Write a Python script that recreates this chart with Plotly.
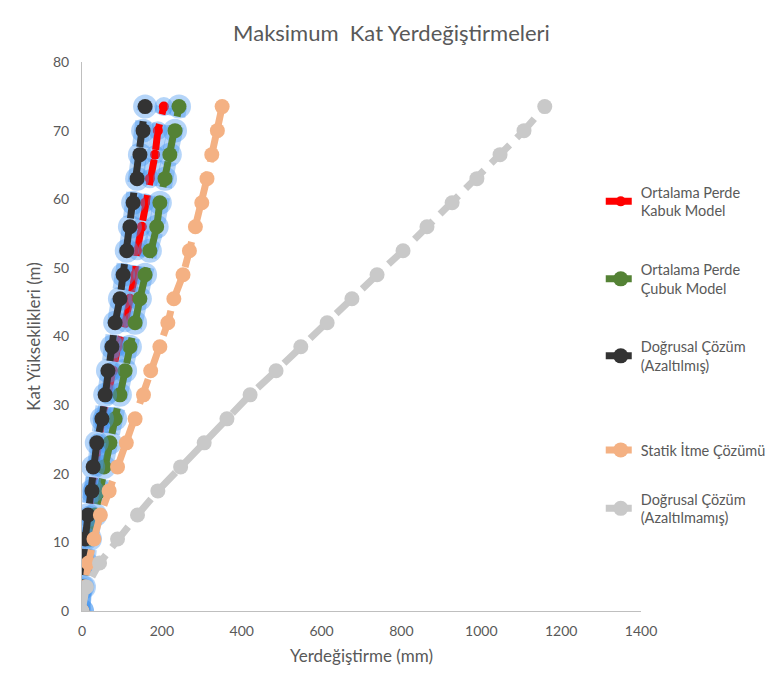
import plotly.graph_objects as go

heights = [0, 3.5, 7, 10.5, 14, 17.5, 21, 24.5, 28, 31.5, 35, 38.5, 42, 45.5, 49, 52.5, 56, 59.5, 63, 66.5, 70, 73.5]

kabuk = [0, 2, 5, 10, 18, 25, 33, 40, 50, 65, 78, 90, 108, 120, 133, 138, 150, 158, 170, 183, 190, 205]
cubuk = [0, 5, 10, 20, 33, 45, 55, 70, 83, 95, 108, 120, 133, 145, 158, 170, 187, 195, 208, 220, 233, 243]
azaltilmis = [0, 1, 3, 8, 15, 25, 28, 37, 50, 58, 65, 75, 83, 95, 103, 112, 120, 128, 138, 145, 153, 158]
statik = [0, 8, 16, 30, 46, 68, 89, 111, 133, 154, 172, 195, 215, 230, 253, 269, 284, 300, 313, 325, 339, 351]
azaltilmamis = [0, 11, 44, 89, 139, 190, 247, 306, 363, 421, 486, 548, 614, 676, 739, 804, 864, 927, 989, 1047, 1107, 1159]

names = ["Ortalama Perde<br>Kabuk Model", "Ortalama Perde<br>Çubuk Model",
         "Doğrusal Çözüm<br>(Azaltılmış)", "Statik İtme Çözümü",
         "Doğrusal Çözüm<br>(Azaltılmamış)"]
series = [kabuk, cubuk, azaltilmis, statik, azaltilmamis]
colors = ["#FF0000", "#548235", "#333333", "#F4B183", "#C9C9C9"]
msizes = [10, 15, 15, 15, 15]
glow = [True, True, True, False, False]
legend_ids = ["legend", "legend2", "legend3", "legend4", "legend5"]
legend_y = [0.7459, 0.6047, 0.4645, 0.2933, 0.1867]

fig = go.Figure()
for i, (nm, vals, c, ms, g) in enumerate(zip(names, series, colors, msizes, glow)):
    if g:
        fig.add_trace(go.Scatter(
            x=vals, y=heights, mode="lines+markers",
            line=dict(color="rgba(70,150,240,0.4)", width=16, dash="26px,10px"),
            marker=dict(size=ms + 9, color="rgba(70,150,240,0.4)"),
            showlegend=False, hoverinfo="skip"))
    fig.add_trace(go.Scatter(
        x=vals, y=heights, mode="lines+markers", name=nm,
        line=dict(color=c, width=7, dash="26px,10px"),
        marker=dict(size=ms, color=c),
        legend=legend_ids[i]))

font_family = "Lato, 'Open Sans', sans-serif"
grey = "#595959"
layout_legends = {}
for lid, ly in zip(legend_ids, legend_y):
    layout_legends[lid] = dict(x=0.928, y=ly, xanchor="left", yanchor="middle",
                               bgcolor="rgba(0,0,0,0)", font=dict(size=14.5, color=grey))

fig.update_layout(
    width=767, height=669,
    paper_bgcolor="white", plot_bgcolor="white",
    margin=dict(l=74, r=134, t=54, b=66, autoexpand=False),
    title=dict(text="Maksimum  Kat Yerdeğiştirmeleri", x=0.5, xanchor="center",
               y=0.9626, yanchor="middle",
               font=dict(family=font_family, size=22, color=grey)),
    font=dict(family=font_family, color=grey, size=14),
    showlegend=True,
    **layout_legends,
)
fig.update_xaxes(range=[0, 1400], dtick=200, showgrid=False, zeroline=False,
                 showline=True, linecolor="#BFBFBF", linewidth=1, ticks="",
                 ticklabelstandoff=7,
                 tickfont=dict(size=14, color=grey),
                 title=dict(text="Yerdeğiştirme (mm)", font=dict(size=17, color=grey), standoff=12))
fig.update_yaxes(range=[0, 80], dtick=10, showgrid=False, zeroline=False,
                 showline=True, linecolor="#BFBFBF", linewidth=1, ticks="",
                 ticklabelstandoff=9,
                 tickfont=dict(size=14, color=grey),
                 title=dict(text="Kat Yükseklikleri (m)", font=dict(size=17, color=grey), standoff=8))

fig.write_html("out.html")
